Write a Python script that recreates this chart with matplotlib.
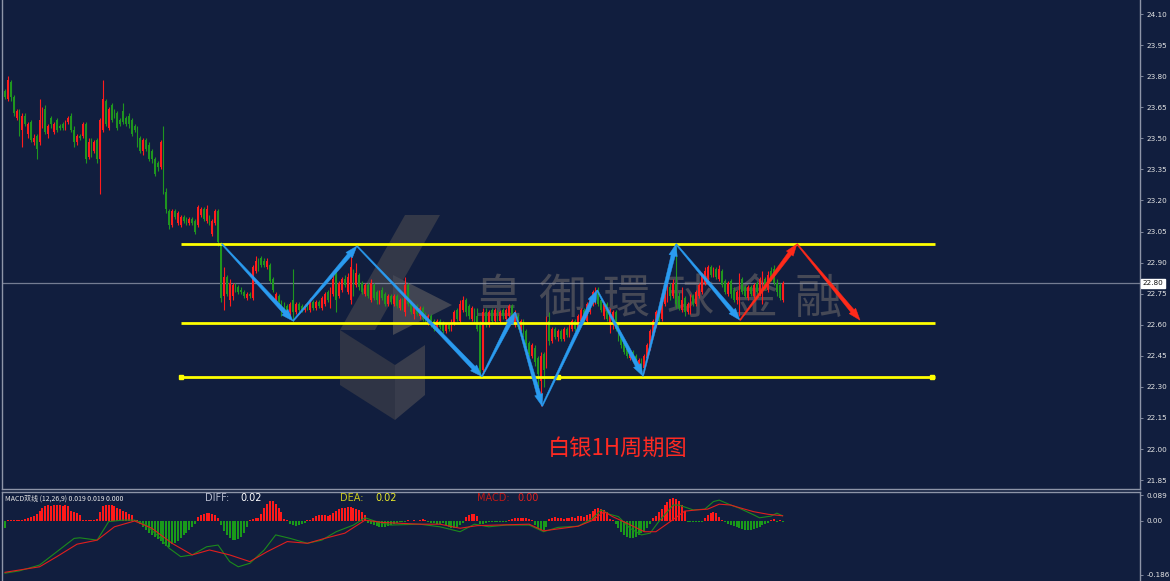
import numpy as np
import matplotlib
matplotlib.use("Agg")
import matplotlib.pyplot as plt
from matplotlib.patches import Polygon
from matplotlib.transforms import IdentityTransform, blended_transform_factory

# ---- 1H silver candles (price) ----
opens = [
    23.73, 23.69, 23.77, 23.70, 23.60, 23.63, 23.54, 23.61, 23.52, 23.58,
    23.48, 23.51, 23.48, 23.56, 23.64, 23.52, 23.60, 23.53, 23.59, 23.56,
    23.57, 23.55, 23.58, 23.61, 23.54, 23.48, 23.51, 23.51, 23.57, 23.41,
    23.49, 23.44, 23.49, 23.40, 23.54, 23.68, 23.55, 23.66, 23.63, 23.62,
    23.59, 23.63, 23.60, 23.61, 23.59, 23.56, 23.55, 23.50, 23.44, 23.49,
    23.47, 23.44, 23.40, 23.38, 23.36, 23.48, 23.24, 23.15, 23.08, 23.15,
    23.09, 23.08, 23.12, 23.11, 23.09, 23.11, 23.10, 23.08, 23.13, 23.16,
    23.10, 23.12, 23.04, 23.09, 23.15, 22.99, 22.74, 22.83, 22.72, 22.74,
    22.79, 22.78, 22.77, 22.76, 22.73, 22.75, 22.73, 22.86, 22.91, 22.92,
    22.91, 22.88, 22.89, 22.82, 22.72, 22.74, 22.71, 22.68, 22.69, 22.66,
    22.72, 22.66, 22.70, 22.69, 22.67, 22.69, 22.67, 22.71, 22.68, 22.71,
    22.68, 22.70, 22.76, 22.70, 22.75, 22.86, 22.74, 22.77, 22.82, 22.76,
    22.72, 22.86, 22.79, 22.84, 22.80, 22.75, 22.79, 22.72, 22.79, 22.76,
    22.71, 22.77, 22.75, 22.70, 22.74, 22.70, 22.74, 22.68, 22.72, 22.66,
    22.79, 22.71, 22.65, 22.69, 22.64, 22.68, 22.65, 22.61, 22.64, 22.62,
    22.58, 22.62, 22.61, 22.57, 22.60, 22.58, 22.61, 22.67, 22.62, 22.67,
    22.72, 22.69, 22.63, 22.67, 22.64, 22.60, 22.38, 22.66, 22.60, 22.67,
    22.62, 22.66, 22.62, 22.67, 22.63, 22.64, 22.69, 22.60, 22.64, 22.58,
    22.62, 22.57, 22.51, 22.45, 22.49, 22.44, 22.33, 22.46, 22.40, 22.62,
    22.52, 22.58, 22.54, 22.57, 22.53, 22.58, 22.55, 22.58, 22.62, 22.58,
    22.62, 22.67, 22.62, 22.66, 22.70, 22.72, 22.77, 22.72, 22.64, 22.70,
    22.60, 22.62, 22.66, 22.60, 22.55, 22.52, 22.49, 22.44, 22.47, 22.45,
    22.40, 22.43, 22.39, 22.44, 22.49, 22.55, 22.60, 22.66, 22.63, 22.70,
    22.72, 22.78, 22.74, 22.80, 22.74, 22.67, 22.73, 22.66, 22.66, 22.74,
    22.70, 22.74, 22.76, 22.80, 22.82, 22.88, 22.84, 22.87, 22.82, 22.86,
    22.81, 22.75, 22.81, 22.77, 22.72, 22.70, 22.82, 22.78, 22.73, 22.78,
    22.74, 22.80, 22.75, 22.72, 22.82, 22.77, 22.86, 22.87, 22.80, 22.79, 22.72,
]
closes = [
    23.70, 23.78, 23.70, 23.62, 23.63, 23.53, 23.61, 23.57, 23.57, 23.49,
    23.50, 23.45, 23.59, 23.64, 23.53, 23.56, 23.57, 23.57, 23.54, 23.55,
    23.55, 23.58, 23.60, 23.54, 23.48, 23.51, 23.50, 23.57, 23.40, 23.48,
    23.42, 23.48, 23.40, 23.59, 23.69, 23.57, 23.64, 23.59, 23.61, 23.55,
    23.57, 23.58, 23.57, 23.57, 23.52, 23.54, 23.47, 23.44, 23.49, 23.45,
    23.40, 23.40, 23.33, 23.36, 23.48, 23.24, 23.16, 23.08, 23.15, 23.12,
    23.14, 23.12, 23.10, 23.09, 23.11, 23.09, 23.05, 23.17, 23.16, 23.11,
    23.16, 23.09, 23.10, 23.15, 23.00, 22.73, 22.83, 22.75, 22.80, 22.79,
    22.77, 22.76, 22.76, 22.74, 22.75, 22.74, 22.88, 22.91, 22.87, 22.89,
    22.89, 22.91, 22.81, 22.77, 22.75, 22.71, 22.65, 22.66, 22.66, 22.70,
    22.66, 22.70, 22.67, 22.67, 22.69, 22.68, 22.72, 22.68, 22.71, 22.69,
    22.73, 22.75, 22.72, 22.77, 22.82, 22.72, 22.80, 22.82, 22.79, 22.83,
    22.88, 22.80, 22.85, 22.78, 22.76, 22.79, 22.74, 22.80, 22.73, 22.72,
    22.76, 22.73, 22.70, 22.74, 22.71, 22.74, 22.69, 22.72, 22.68, 22.79,
    22.70, 22.66, 22.69, 22.65, 22.68, 22.63, 22.62, 22.64, 22.60, 22.58,
    22.62, 22.59, 22.57, 22.60, 22.58, 22.62, 22.66, 22.63, 22.70, 22.72,
    22.66, 22.64, 22.68, 22.62, 22.58, 22.37, 22.66, 22.60, 22.66, 22.62,
    22.67, 22.63, 22.66, 22.64, 22.67, 22.69, 22.63, 22.66, 22.59, 22.62,
    22.55, 22.50, 22.46, 22.50, 22.42, 22.36, 22.45, 22.38, 22.62, 22.52,
    22.58, 22.54, 22.57, 22.53, 22.58, 22.55, 22.60, 22.62, 22.58, 22.64,
    22.67, 22.63, 22.70, 22.72, 22.76, 22.77, 22.70, 22.67, 22.70, 22.63,
    22.67, 22.66, 22.58, 22.53, 22.50, 22.47, 22.45, 22.47, 22.43, 22.41,
    22.43, 22.39, 22.45, 22.50, 22.57, 22.62, 22.66, 22.62, 22.72, 22.76,
    22.78, 22.74, 22.80, 22.70, 22.68, 22.72, 22.66, 22.70, 22.74, 22.70,
    22.76, 22.79, 22.84, 22.86, 22.88, 22.84, 22.87, 22.83, 22.87, 22.79,
    22.76, 22.80, 22.75, 22.72, 22.76, 22.83, 22.76, 22.74, 22.78, 22.75,
    22.79, 22.76, 22.82, 22.83, 22.78, 22.84, 22.82, 22.80, 22.76, 22.73, 22.80,
]
highs = [
    23.74, 23.80, 23.78, 23.71, 23.64, 23.64, 23.62, 23.62, 23.58, 23.59,
    23.52, 23.52, 23.69, 23.65, 23.66, 23.57, 23.61, 23.58, 23.60, 23.57,
    23.58, 23.59, 23.61, 23.62, 23.56, 23.52, 23.52, 23.58, 23.58, 23.50,
    23.50, 23.49, 23.50, 23.60, 23.78, 23.69, 23.65, 23.67, 23.64, 23.63,
    23.60, 23.67, 23.61, 23.62, 23.60, 23.57, 23.56, 23.51, 23.50, 23.50,
    23.48, 23.45, 23.41, 23.39, 23.49, 23.56, 23.26, 23.16, 23.16, 23.16,
    23.15, 23.13, 23.13, 23.12, 23.12, 23.12, 23.11, 23.18, 23.17, 23.17,
    23.18, 23.13, 23.11, 23.16, 23.16, 23.00, 22.88, 22.84, 22.82, 22.80,
    22.80, 22.79, 22.78, 22.77, 22.76, 22.76, 22.89, 22.93, 22.92, 22.93,
    22.92, 22.92, 22.90, 22.83, 22.76, 22.75, 22.72, 22.71, 22.70, 22.71,
    22.87, 22.71, 22.71, 22.70, 22.70, 22.70, 22.73, 22.72, 22.72, 22.72,
    22.74, 22.76, 22.77, 22.78, 22.86, 22.88, 22.81, 22.83, 22.84, 22.85,
    22.93, 22.87, 22.90, 22.85, 22.81, 22.80, 22.80, 22.82, 22.80, 22.77,
    22.77, 22.78, 22.76, 22.75, 22.75, 22.75, 22.75, 22.73, 22.73, 22.83,
    22.80, 22.72, 22.70, 22.70, 22.69, 22.69, 22.66, 22.65, 22.65, 22.63,
    22.63, 22.63, 22.62, 22.61, 22.61, 22.63, 22.67, 22.68, 22.72, 22.74,
    22.73, 22.70, 22.69, 22.68, 22.68, 22.62, 22.68, 22.68, 22.67, 22.68,
    22.68, 22.67, 22.67, 22.68, 22.68, 22.70, 22.70, 22.67, 22.65, 22.63,
    22.63, 22.58, 22.52, 22.51, 22.50, 22.45, 22.47, 22.47, 22.64, 22.66,
    22.59, 22.59, 22.58, 22.58, 22.59, 22.59, 22.61, 22.63, 22.63, 22.65,
    22.68, 22.68, 22.71, 22.74, 22.77, 22.78, 22.78, 22.73, 22.71, 22.71,
    22.68, 22.67, 22.67, 22.61, 22.56, 22.53, 22.50, 22.48, 22.48, 22.46,
    22.44, 22.44, 22.46, 22.51, 22.58, 22.63, 22.67, 22.67, 22.73, 22.77,
    22.80, 22.80, 22.82, 22.99, 22.76, 22.78, 22.74, 22.71, 22.75, 22.75,
    22.77, 22.80, 22.85, 22.88, 22.89, 22.89, 22.88, 22.88, 22.89, 22.87,
    22.82, 22.81, 22.82, 22.78, 22.77, 22.85, 22.83, 22.79, 22.79, 22.79,
    22.80, 22.81, 22.83, 22.86, 22.83, 22.86, 22.88, 22.89, 22.82, 22.80, 22.81,
]
lows = [
    23.69, 23.68, 23.68, 23.61, 23.59, 23.51, 23.46, 23.56, 23.50, 23.48,
    23.47, 23.40, 23.47, 23.55, 23.52, 23.50, 23.55, 23.52, 23.53, 23.54,
    23.54, 23.54, 23.57, 23.53, 23.46, 23.47, 23.49, 23.50, 23.38, 23.40,
    23.41, 23.43, 23.38, 23.23, 23.53, 23.56, 23.54, 23.58, 23.60, 23.54,
    23.56, 23.57, 23.56, 23.55, 23.51, 23.53, 23.46, 23.43, 23.42, 23.44,
    23.39, 23.38, 23.32, 23.34, 23.35, 23.23, 23.14, 23.06, 23.07, 23.11,
    23.08, 23.07, 23.09, 23.08, 23.08, 23.08, 23.04, 23.07, 23.12, 23.10,
    23.09, 23.08, 23.03, 23.08, 22.98, 22.71, 22.67, 22.74, 22.69, 22.72,
    22.76, 22.75, 22.75, 22.73, 22.72, 22.73, 22.72, 22.85, 22.86, 22.88,
    22.88, 22.87, 22.80, 22.76, 22.71, 22.70, 22.64, 22.65, 22.65, 22.64,
    22.62, 22.65, 22.66, 22.66, 22.66, 22.67, 22.66, 22.67, 22.67, 22.68,
    22.67, 22.69, 22.71, 22.68, 22.74, 22.66, 22.73, 22.76, 22.78, 22.75,
    22.70, 22.74, 22.78, 22.77, 22.75, 22.74, 22.73, 22.71, 22.72, 22.70,
    22.70, 22.72, 22.69, 22.69, 22.70, 22.69, 22.68, 22.67, 22.67, 22.64,
    22.69, 22.65, 22.63, 22.64, 22.63, 22.62, 22.61, 22.60, 22.59, 22.57,
    22.57, 22.58, 22.56, 22.56, 22.57, 22.57, 22.60, 22.62, 22.61, 22.66,
    22.64, 22.63, 22.62, 22.61, 22.57, 22.35, 22.36, 22.59, 22.59, 22.61,
    22.61, 22.62, 22.61, 22.63, 22.62, 22.63, 22.62, 22.59, 22.58, 22.57,
    22.54, 22.49, 22.45, 22.44, 22.40, 22.30, 22.21, 22.30, 22.39, 22.50,
    22.51, 22.53, 22.52, 22.52, 22.52, 22.54, 22.54, 22.57, 22.57, 22.57,
    22.61, 22.62, 22.61, 22.65, 22.69, 22.70, 22.69, 22.66, 22.63, 22.62,
    22.56, 22.58, 22.57, 22.52, 22.49, 22.46, 22.44, 22.43, 22.42, 22.40,
    22.39, 22.37, 22.37, 22.43, 22.48, 22.54, 22.59, 22.61, 22.62, 22.69,
    22.71, 22.72, 22.73, 22.68, 22.67, 22.66, 22.64, 22.65, 22.65, 22.69,
    22.69, 22.73, 22.75, 22.79, 22.81, 22.83, 22.83, 22.82, 22.81, 22.78,
    22.75, 22.74, 22.73, 22.71, 22.70, 22.64, 22.75, 22.73, 22.72, 22.74,
    22.73, 22.75, 22.74, 22.70, 22.77, 22.76, 22.81, 22.79, 22.74, 22.72, 22.71,
]

# ---- MACD panel (thousandths for the histogram) ----
macd_hist = [
    -25, 3, 4, 3, 4, 3, 5, 8, 10, 14, 18, 24, 35, 45,
    52, 55, 52, 55, 56, 54, 52, 55, 50, 35, 30, 28, 22,
    5, 4, 3, 5, 4, 6, 30, 50, 55, 56, 54, 52, 45, 40, 35, 30, 25, 20, 5, 2,
    -10, -20, -30, -40, -48, -55, -62, -70, -78, -85, -88,
    -80, -75, -68, -60, -50, -40, -30, -20, -10,
    15, 22, 25, 27, 27, 25, 22, 12,
    -15, -35, -50, -58, -64, -66, -62, -55, -40, -20,
    5, 8, 10, 12, 25, 45, 60, 70, 68, 60, 45, 30, 8, 4,
    -10, -14, -16, -15, -12, -8, 2, 3, 12, 16, 20, 22, 20, 18,
    22, 28, 35, 40, 44, 46, 48, 47, 45, 42, 38, 30, 20,
    -8, -10, -15, -18, -20, -22, -20, -18, -15, -12, -6, -4, -3, -2,
    2, 1, 2, 1, 3, 8, 3, -2, -6, -8, -10, -10, -8,
    -14, -20, -24, -25, -22, -15, -8, 15, 22, 25, 24, 18, -12, -10, -6,
    -2, -3, -4, -5, -4, -3, -2, 2, 6, 9, 11, 12, 11, 9, 6, 3,
    -15, -25, -32, -30, -20,
    8, 12, 14, 12, 10, 8, 10, 12, 14, 12, 16, 18, 15, 20, 25,
    35, 40, 45, 42, 38, 30, 8, 4,
    -10, -25, -38, -48, -55, -60, -58, -55, -50, -42, -35, -25, -12,
    10, 18, 30, 42, 55, 65, 75, 80, 76, 68, 55, 35,
    -4, -3, -3, -2, -3, -2, 12, 22, 28, 30, 26, 15, 2,
    -5, -10, -14, -18, -22, -25, -28, -30, -30, -30, -28, -25, -20, -15, -10, -6,
    5, 8, -4, 3, -3,
]
diff_x = [0, 5, 12, 18, 24, 26, 32, 36, 41, 45, 49, 54, 57, 61, 65, 70, 74, 78, 81, 85,
          90, 94, 99, 105, 110, 115, 121, 125, 129, 134, 144, 151, 158, 163, 168, 174, 182, 187, 192, 199,
          204, 207, 210, 213, 217, 221, 224, 227, 232, 234, 239, 243, 246, 248, 252, 255, 260, 262, 266, 268, 270]
diff_y = [-0.180, -0.172, -0.152, -0.106, -0.060, -0.058, -0.066, -0.002, 0.003, 0.003,
          -0.014, -0.060, -0.094, -0.123, -0.117, -0.089, -0.083, -0.140, -0.158, -0.146,
          -0.100, -0.048, -0.060, -0.077, -0.066, -0.037, -0.014, 0.011, -0.002, -0.014,
          -0.011, -0.020, -0.037, -0.011, -0.020, -0.014, -0.014, -0.037, -0.022, -0.018,
          0.009, 0.038, 0.023, 0.015, -0.025, -0.048, -0.042, -0.002, 0.055, 0.055,
          0.038, 0.041, 0.067, 0.072, 0.055, 0.044, 0.021, 0.011, 0.017, 0.027, 0.018]
dea_x = [0, 12, 18, 25, 32, 38, 45, 51, 58, 65, 71, 78, 85, 91, 98, 105, 111, 118, 125, 131,
         144, 151, 158, 164, 171, 182, 187, 193, 199, 204, 208, 211, 216, 222, 226, 231, 236, 240, 244, 248,
         252, 255, 260, 265, 270]
dea_y = [-0.177, -0.158, -0.123, -0.080, -0.066, -0.020, 0.000, -0.025, -0.077, -0.117,
         -0.100, -0.117, -0.140, -0.106, -0.071, -0.077, -0.060, -0.042, 0.003, -0.005,
         -0.011, -0.011, -0.025, -0.016, -0.014, -0.011, -0.034, -0.026, -0.018, 0.002,
         0.032, 0.015, -0.008, -0.037, -0.037, -0.002, 0.034, 0.038, 0.041, 0.058,
         0.055, 0.046, 0.032, 0.023, 0.018]

# ---- drawn analysis ----
levels = [22.99, 22.61, 22.35]
level_span = (61.1, 322.9)
bottom_marks = [61.1, 192.0, 321.9]
blue_x = [75.3, 100.0, 122.2, 165.6, 177.1, 186.5, 205.6, 221.5, 233.0, 255.2]
blue_y = [22.99, 22.618, 22.98, 22.35, 22.66, 22.207, 22.767, 22.352, 22.99, 22.622]
red_x = [255.2, 275.0, 296.9]
red_y = [22.622, 22.99, 22.622]
last_price = 22.80
price_ticks = [24.10, 23.95, 23.80, 23.65, 23.50, 23.35, 23.20, 23.05, 22.90, 22.75,
               22.60, 22.45, 22.30, 22.15, 22.00, 21.85]
macd_ticks = [0.089, 0.0, -0.186]
macd_tick_labels = ["0.089", "0.00", "-0.186"]

BG = "#111e3e"
UP = "#ff1c1c"
DOWN = "#1f961f"
GRID = "#8e95a8"
CJK = ["Noto Sans CJK SC", "DejaVu Sans"]

W, H = 1170, 581
fig = plt.figure(figsize=(W / 100, H / 100), dpi=100, facecolor=BG)
ax = fig.add_axes([2 / W, 92 / H, 1138 / W, 489 / H], facecolor=BG)
mx = fig.add_axes([2 / W, 0, 1138 / W, 89 / H], facecolor=BG)

xlim = (-1.04, 394.1)
ax.set_xlim(*xlim)
ax.set_ylim(21.807, 24.168)
mx.set_xlim(*xlim)
mx.set_ylim(-0.207, 0.100)


def px(xp, yp):
    # reference pixel -> main axes fraction
    return ((xp - 2) / 1138, 1 - yp / 489)


# watermark logo + name (under the candles)
logo = [
    ([(340, 330), (405, 215), (440, 215), (375, 330)], "#333848"),
    ([(393, 275), (452, 305), (393, 335)], "#414553"),
    ([(340, 330), (395, 365), (395, 420), (340, 385)], "#2f3445"),
    ([(395, 365), (425, 345), (425, 395), (395, 420)], "#383c4c"),
]
for pts, col in logo:
    ax.add_patch(Polygon([px(*p) for p in pts], closed=True, transform=ax.transAxes,
                         facecolor=col, edgecolor="none", zorder=0.5))
for k, ch in enumerate("皇御環球金融"):
    ax.text(*px(498 + 64 * k, 300), ch, transform=ax.transAxes, fontsize=34,
            family=["Noto Sans CJK TC", "DejaVu Sans"], color="#464956",
            ha="center", va="center", zorder=0.6)

# candles
x = np.arange(len(closes))
o = np.array(opens)
c = np.array(closes)
up = c >= o
cols = np.where(up, UP, DOWN)
ax.vlines(x, lows, highs, colors=cols, lw=0.8, zorder=2)
body = np.maximum(np.abs(c - o), 0.004)
ax.bar(x, body, bottom=np.minimum(o, c), width=0.62, color=cols, lw=0, zorder=2.1)

# current price
ax.axhline(last_price, color=GRID, lw=0.9, alpha=0.8, zorder=1.5)

# yellow channel
for lv in levels:
    ax.hlines(lv, level_span[0], level_span[1], colors="#ffff00", lw=2.0, zorder=3)
ax.plot(bottom_marks, [levels[2]] * len(bottom_marks), "s", color="#ffff00", ms=3.5, zorder=3.1)


def taper_arrow(x0, y0, x1, y1, color, w0=1.2, w1=4.2, hw=8.5, hl=12.0):
    p0 = ax.transData.transform((x0, y0))
    p1 = ax.transData.transform((x1, y1))
    d = p1 - p0
    u = d / np.hypot(*d)
    n = np.array([-u[1], u[0]])
    b = p1 - u * hl
    pts = [p0 + n * w0 / 2, b + n * w1 / 2, b + n * hw / 2, p1,
           b - n * hw / 2, b - n * w1 / 2, p0 - n * w0 / 2]
    fig.add_artist(Polygon(pts, closed=True, transform=IdentityTransform(),
                           facecolor=color, edgecolor=color, lw=0.3, zorder=6))


for i in range(len(blue_x) - 1):
    taper_arrow(blue_x[i], blue_y[i], blue_x[i + 1], blue_y[i + 1], "#2a9bf0")
for i in range(len(red_x) - 1):
    taper_arrow(red_x[i], red_y[i], red_x[i + 1], red_y[i + 1], "#ff2a1a")

ax.text(*px(618, 448), "白银1H周期图", transform=ax.transAxes, fontsize=16,
        family=CJK, color="#ff2a22", ha="center", va="center", zorder=4)

# MACD panel
hist = np.array(macd_hist) / 1000.0
hx = np.arange(len(hist))
mx.bar(hx, hist, width=0.7, color=np.where(hist >= 0, "#ff1a1a", "#1a9a1a"), lw=0, zorder=2)
mx.plot(diff_x, diff_y, color="#1c8a1c", lw=0.8, zorder=3)
mx.plot(dea_x, dea_y, color="#e01e1e", lw=0.8, zorder=3)

mx.text(3 / 1138, 0.93, "MACD双线 (12,26,9) 0.019 0.019 0.000", transform=mx.transAxes,
        fontsize=5, family=CJK, color="#e8e8e8", va="center")
for xp, s, col in [(205, "DIFF:", "#b8bdd0"), (240, "0.02", "#ffffff"),
                   (340, "DEA:", "#c8c81e"), (375, "0.02", "#e8e82a"),
                   (477, "MACD:", "#c01818"), (517, "0.00", "#e02020")]:
    mx.text((xp - 2) / 1138, 0.93, s, transform=mx.transAxes, fontsize=7,
            color=col, va="center")

# axes styling
for a in (ax, mx):
    a.tick_params(axis="x", bottom=False, labelbottom=False)
    a.yaxis.tick_right()
    a.tick_params(axis="y", colors=GRID, labelcolor="#e6e6e6", labelsize=5.2,
                  length=2.5, width=0.6, pad=2)
    for side in ("left", "right", "top", "bottom"):
        a.spines[side].set_color(GRID)
        a.spines[side].set_linewidth(1.0)
ax.spines["top"].set_visible(False)
mx.spines["bottom"].set_visible(False)

ax.set_yticks(price_ticks)
ax.set_yticklabels([f"{t:.2f}" for t in price_ticks])
mx.set_yticks(macd_ticks)
mx.set_yticklabels(macd_tick_labels)

tr = blended_transform_factory(ax.transAxes, ax.transData)
ax.text(1.0025, last_price, f"{last_price:.2f}", transform=tr, fontsize=5.2,
        color="#111111", va="center", ha="left", clip_on=False, zorder=7,
        bbox=dict(boxstyle="square,pad=0.25", fc="white", ec="white"))

fig.savefig("out.png", dpi=100, facecolor=BG)
